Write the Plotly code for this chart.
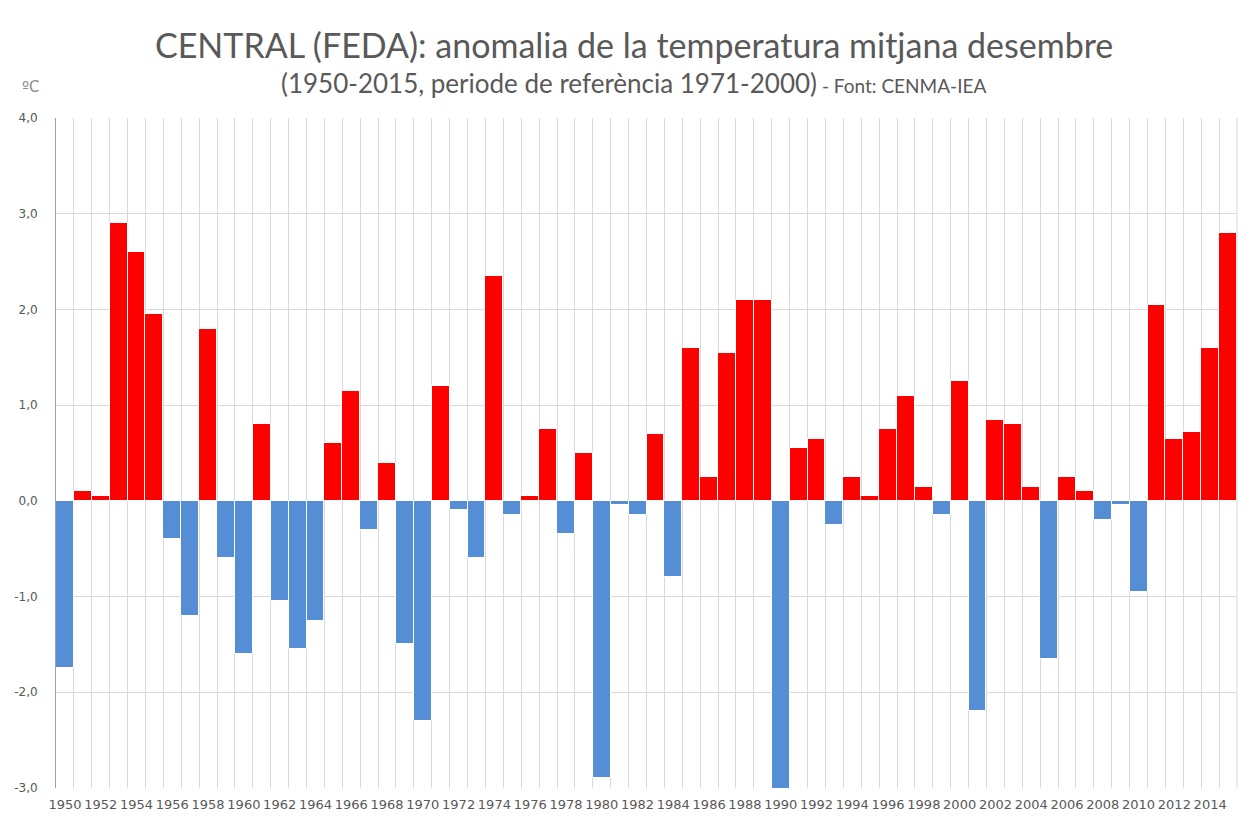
import plotly.graph_objects as go

years = list(range(1950, 2016))
anomalies = [
    -1.75, 0.10, 0.05, 2.90, 2.60, 1.95, -0.40, -1.20, 1.80, -0.60,
    -1.60, 0.80, -1.05, -1.55, -1.25, 0.60, 1.15, -0.30, 0.40, -1.50,
    -2.30, 1.20, -0.10, -0.60, 2.35, -0.15, 0.05, 0.75, -0.35, 0.50,
    -2.90, -0.04, -0.15, 0.70, -0.80, 1.60, 0.25, 1.55, 2.10, 2.10,
    -3.10, 0.55, 0.65, -0.25, 0.25, 0.05, 0.75, 1.10, 0.15, -0.15,
    1.25, -2.20, 0.85, 0.80, 0.15, -1.65, 0.25, 0.10, -0.20, -0.04,
    -0.95, 2.05, 0.65, 0.72, 1.60, 2.80,
]
tick_years = list(range(1950, 2016, 2))
y_ticks = [-3, -2, -1, 0, 1, 2, 3, 4]
y_ticktext = [f"{v:.1f}".replace(".", ",") for v in y_ticks]

RED = "#FF0000"
BLUE = "#558ED5"
colors = [RED if v >= 0 else BLUE for v in anomalies]

# page body has an 8px margin; compensate so the plot lands where the reference has it
OFF = 8
W, H = 1252 - OFF, 823 - OFF
PL, PR, PT, PB = 56, 1237, 118, 788   # plot area in screenshot pixels
L, T = PL - OFF, PT - OFF
R, B = W + OFF - PR, H + OFF - PB
pw, ph = PR - PL, PB - PT

def px_x(x):
    return (x - PL) / pw

def px_y(y):
    return (PB - y) / ph

fig = go.Figure()
fig.add_trace(go.Bar(
    x=years, y=anomalies,
    marker=dict(color=colors, line=dict(color="white", width=1)),
    width=1.0,
    showlegend=False,
    hovertemplate="%{x}: %{y:.2f} ºC<extra></extra>",
))

fig.update_layout(
    width=W, height=H,
    margin=dict(l=L, r=R, t=T, b=B, autoexpand=False),
    paper_bgcolor="white",
    plot_bgcolor="white",
    bargap=0,
    separators=",.",
    font=dict(family="DejaVu Sans", color="#595959", size=12),
    xaxis=dict(
        range=[1949.5, 2015.5],
        tickvals=tick_years,
        ticktext=[str(y) for y in tick_years],
        showgrid=False,
        ticks="",
        ticklabelstandoff=7,
        tickfont=dict(family="DejaVu Sans", size=13, color="#595959"),
        showline=False,
        zeroline=False,
        automargin=False,
        minor=dict(tick0=1949.5, dtick=1, showgrid=True,
                   gridcolor="#D9D9D9", gridwidth=1, ticks=""),
        fixedrange=True,
    ),
    yaxis=dict(
        range=[-3, 4],
        tickvals=y_ticks,
        ticktext=y_ticktext,
        showgrid=True,
        gridcolor="#D9D9D9",
        gridwidth=1,
        zeroline=False,
        showline=True,
        linecolor="#8EA4BC",
        linewidth=1,
        ticks="",
        ticklabelstandoff=15,
        automargin=False,
        tickfont=dict(family="DejaVu Sans", size=12, color="#595959"),
        fixedrange=True,
    ),
    shapes=[
        dict(type="line", xref="paper", yref="paper",
             x0=1, x1=1, y0=0, y1=1,
             line=dict(color="#D9D9D9", width=1)),
    ],
    annotations=[
        dict(text="CENTRAL (FEDA): anomalia de la temperatura mitjana desembre",
             xref="paper", yref="paper", x=px_x(634), y=px_y(44),
             xanchor="center", yanchor="middle", showarrow=False,
             font=dict(family="Lato", size=34, color="#595959")),
        dict(text="(1950-2015, periode de referència 1971-2000)"
                  "<span style='font-size:19px'> - Font: CENMA-IEA</span>",
             xref="paper", yref="paper", x=px_x(633), y=px_y(83),
             xanchor="center", yanchor="middle", showarrow=False,
             font=dict(family="Lato", size=26, color="#595959")),
        dict(text="ºC", xref="paper", yref="paper", x=px_x(31), y=px_y(87),
             xanchor="center", yanchor="middle", showarrow=False,
             font=dict(family="DejaVu Sans", size=15, color="#8C8C8C")),
    ],
)

fig.write_html("out.html")
